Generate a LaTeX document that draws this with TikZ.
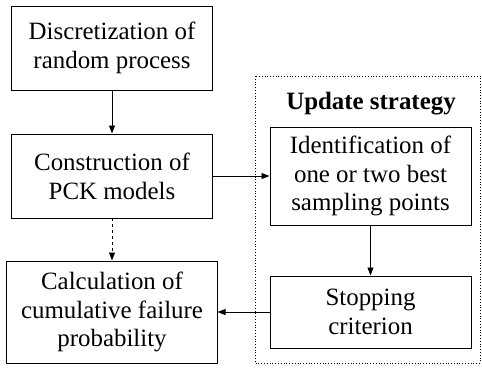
\documentclass[tikz,border=0pt]{standalone}
\usepackage{fontspec}
\setmainfont{Liberation Serif}
\newfontfamily\boxfont{Liberation Serif}
\usepackage{tikz}
\usetikzlibrary{arrows.meta}
\tikzset{procbox/.style={draw, line width=1bp, align=center, inner sep=0pt, minimum width=200bp, minimum height=84bp, font=\boxfont\fontsize{25}{29}\selectfont},
  flow/.style={line width=0.9bp, -{Triangle[length=8bp,width=6bp]}}}

\begin{document}
\begin{tikzpicture}[x=1bp,y=-1bp]
\useasboundingbox (0,0) rectangle (482,367);
% left column
\node[procbox] (disc) at (112,48) {Discretization of\\random process};
\node[procbox] (pck) at (112,176) {Construction of\\PCK models};
\node[procbox, minimum width=210bp, minimum height=102bp] (calc) at (112,312) {Calculation of\\cumulative failure\\probability};
% update strategy
\draw[dotted, line width=0.8bp] (255,76) rectangle (480,363);
\node[font=\boxfont\fontsize{25}{29}\selectfont\bfseries] (upd) at (371,104) {Update strategy};
\node[procbox, minimum width=201bp, minimum height=98bp] (ident) at (370.5,176) {Identification of\\one or two best\\sampling points};
\node[procbox, minimum width=201bp, minimum height=72bp] (stop) at (370.5,312) {Stopping\\criterion};
% arrows
\draw[flow] (disc) -- (pck);
\draw[flow, dashed] (pck) -- (calc);
\draw[flow] (pck) -- (ident);
\draw[flow] (ident) -- (stop);
\draw[flow] (stop) -- (calc);
\end{tikzpicture}
\end{document}
